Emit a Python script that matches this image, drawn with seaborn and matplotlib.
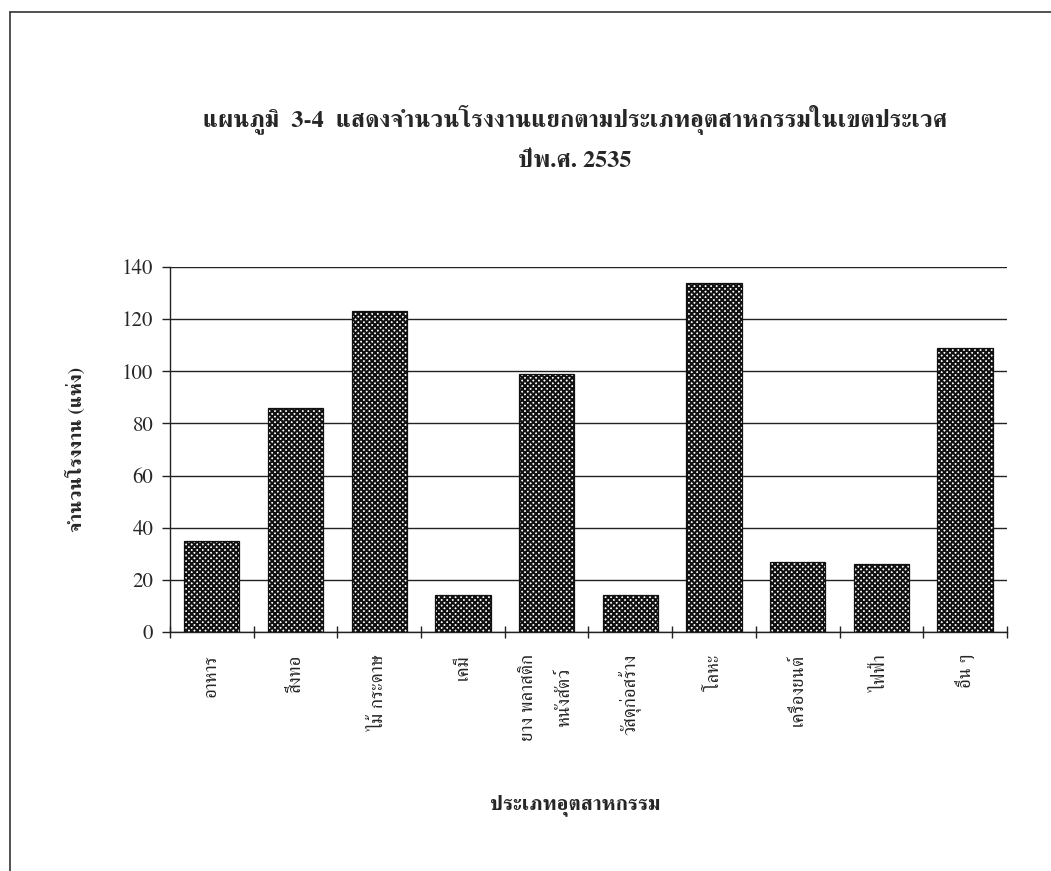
import matplotlib
matplotlib.use('Agg')
import matplotlib.pyplot as plt
from matplotlib.lines import Line2D
import seaborn as sns
import pandas as pd

categories = ['อาหาร', 'สิ่งทอ', 'ไม้ กระดาษ', 'เคมี', 'ยาง พลาสติก\nหนังสัตว์',
              'วัสดุก่อสร้าง', 'โลหะ', 'เครื่องยนต์', 'ไฟฟ้า', 'อื่น ๆ']
factories = [35, 86, 123, 14, 99, 14, 134, 27, 26, 109]
y_ticks = [0, 20, 40, 60, 80, 100, 120, 140]

title_1 = 'แผนภูมิ  3-4  แสดงจำนวนโรงงานแยกตามประเภทอุตสาหกรรมในเขตประเวศ'
title_2 = 'ปีพ.ศ. 2535'
x_label = 'ประเภทอุตสาหกรรม'
y_label = 'จำนวนโรงงาน (แห่ง)'

df = pd.DataFrame({'category': categories, 'count': factories})

sns.set_theme(style='white')
plt.rcParams['font.family'] = ['FreeSerif', 'DejaVu Serif']
plt.rcParams['hatch.linewidth'] = 1.5

fig = plt.figure(figsize=(10.51, 8.71), dpi=100)
ax = fig.add_axes([0.1617, 0.2744, 0.7964, 0.4191])

sns.barplot(data=df, x='category', y='count', color='white', width=0.66,
            edgecolor='#111111', linewidth=0.9, ax=ax, zorder=3)
for p in ax.patches:
    p.set_hatch('xxxxxx')

ax.set_ylim(0, 140)
ax.set_xlim(-0.5, len(categories) - 0.5)
ax.set_yticks(y_ticks)
ax.set_yticklabels([str(t) for t in y_ticks], fontsize=15)
ax.yaxis.grid(True, color='#222222', linewidth=1.0, zorder=0)
ax.set_axisbelow(True)

# category labels sit under the bars, tick marks on the category borders
ax.set_xticks(range(len(categories)))
ax.set_xticklabels(categories, rotation=90, fontsize=13.5, va='top',
                   ha='center', multialignment='center', linespacing=2.5)
ax.set_xticks([i - 0.5 for i in range(len(categories) + 1)], minor=True)
ax.tick_params(axis='x', which='both', bottom=True)
ax.tick_params(axis='x', which='major', length=0, pad=16)
ax.tick_params(axis='x', which='minor', direction='inout', length=8,
               width=1.0, color='#222222')
ax.tick_params(axis='y', left=True, direction='out', length=6, width=1.0,
               color='#222222', pad=6)

for side in ['top', 'right']:
    ax.spines[side].set_visible(False)
for side in ['left', 'bottom']:
    ax.spines[side].set_color('#222222')
    ax.spines[side].set_linewidth(1.0)

ax.set_xlabel('')
ax.set_ylabel(y_label, fontsize=14, fontweight='bold', labelpad=26)

fig.text(0.547, 0.862, title_1, ha='center', va='center', fontsize=17.5,
         fontweight='bold')
fig.text(0.547, 0.815, title_2, ha='center', va='center', fontsize=17.5,
         fontweight='bold')
fig.text(0.547, 0.076, x_label, ha='center', va='center', fontsize=15,
         fontweight='bold')

# scanned page frame (top and left edges only)
fig.add_artist(Line2D([10 / 1051, 1.0], [1 - 12 / 871, 1 - 12 / 871],
                      transform=fig.transFigure, color='#333333', linewidth=1.2))
fig.add_artist(Line2D([10 / 1051, 10 / 1051], [0.0, 1 - 12 / 871],
                      transform=fig.transFigure, color='#333333', linewidth=1.2))

fig.savefig('out.png', dpi=100)
